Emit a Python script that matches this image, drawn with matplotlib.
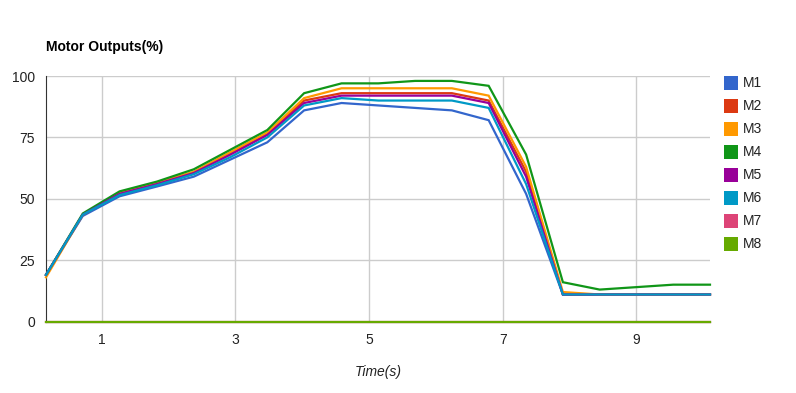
import matplotlib
matplotlib.use("Agg")
import matplotlib.pyplot as plt
from matplotlib.patches import Rectangle

plt.rcParams['font.family'] = ['Liberation Sans', 'DejaVu Sans']

times = [0.17, 0.72, 1.27, 1.83, 2.38, 2.93, 3.48, 4.03, 4.59, 5.14,
         5.69, 6.24, 6.79, 7.35, 7.90, 8.45, 9.00, 9.55, 10.10]

series_names = ["M1", "M2", "M3", "M4", "M5", "M6", "M7", "M8"]
colors = ["#3366CC", "#DC3912", "#FF9900", "#109618", "#990099", "#0099C6", "#DD4477", "#66AA00"]

m1 = [19, 43, 51, 55, 59, 66, 73, 86, 89, 88, 87, 86, 82, 52, 11, 11, 11, 11, 11]
m2 = [19, 43.5, 52, 56, 60.5, 68.5, 76.5, 90, 93, 93, 93, 93, 90, 61, 11, 11, 11, 11, 11]
m3 = [18, 43.5, 52.5, 56.5, 61, 69, 77, 91, 95, 95, 95, 95, 92, 63, 12, 11, 11, 11, 11]
m4 = [19, 44, 53, 57, 62, 70, 78, 93, 97, 97, 98, 98, 96, 68, 16, 13, 14, 15, 15]
m5 = [19, 43.5, 52, 56, 60.5, 68, 76, 89, 92, 92, 92, 92, 89, 59, 11, 11, 11, 11, 11]
m6 = [19, 43.5, 51.5, 55.5, 60, 67, 75, 88, 91, 90, 90, 90, 87, 56, 11, 11, 11, 11, 11]
m7 = [0] * 19
m8 = [0] * 19
all_series = [m1, m2, m3, m4, m5, m6, m7, m8]

xticks = [1, 3, 5, 7, 9]
yticks = [0, 25, 50, 75, 100]

W, H = 796, 393
fig = plt.figure(figsize=(W / 100, H / 100), dpi=100)
left, right, top, bottom = 46, 710, 76, 321.5
ax = fig.add_axes([left / W, 1 - bottom / H, (right - left) / W, (bottom - top) / H])

for vals, c in zip(all_series, colors):
    ax.plot(times, vals, color=c, lw=1.6, solid_joinstyle='miter', zorder=3, clip_on=False)

ax.set_xlim(times[0], times[-1])
ax.set_ylim(0, 100)
ax.set_xticks(xticks)
ax.set_yticks(yticks)
ax.grid(True, color="#cccccc", lw=1)
ax.set_axisbelow(True)
ax.tick_params(length=0, labelsize=10, colors="#222222", pad=8)
for s in ["top", "right"]:
    ax.spines[s].set_visible(False)
ax.spines["left"].set_color("#333333")
ax.spines["bottom"].set_color("#333333")
ax.set_xlabel("Time(s)", fontstyle="italic", fontsize=10, color="#222222", labelpad=13)

fig.text(46 / W, 1 - 47 / H, "Motor Outputs(%)", fontsize=10, fontweight="bold",
         color="#000000", va="center", ha="left")

# legend
for i, (name, c) in enumerate(zip(series_names, colors)):
    yc = 83 + i * 23.
    fig.patches.append(Rectangle((724 / W, 1 - (yc + 7) / H), 14 / W, 14 / H,
                                 transform=fig.transFigure, facecolor=c, edgecolor='none'))
    fig.text(743 / W, 1 - yc / H, name, fontsize=10, color="#222222", va="center", ha="left")

fig.savefig("out.png", dpi=100)
